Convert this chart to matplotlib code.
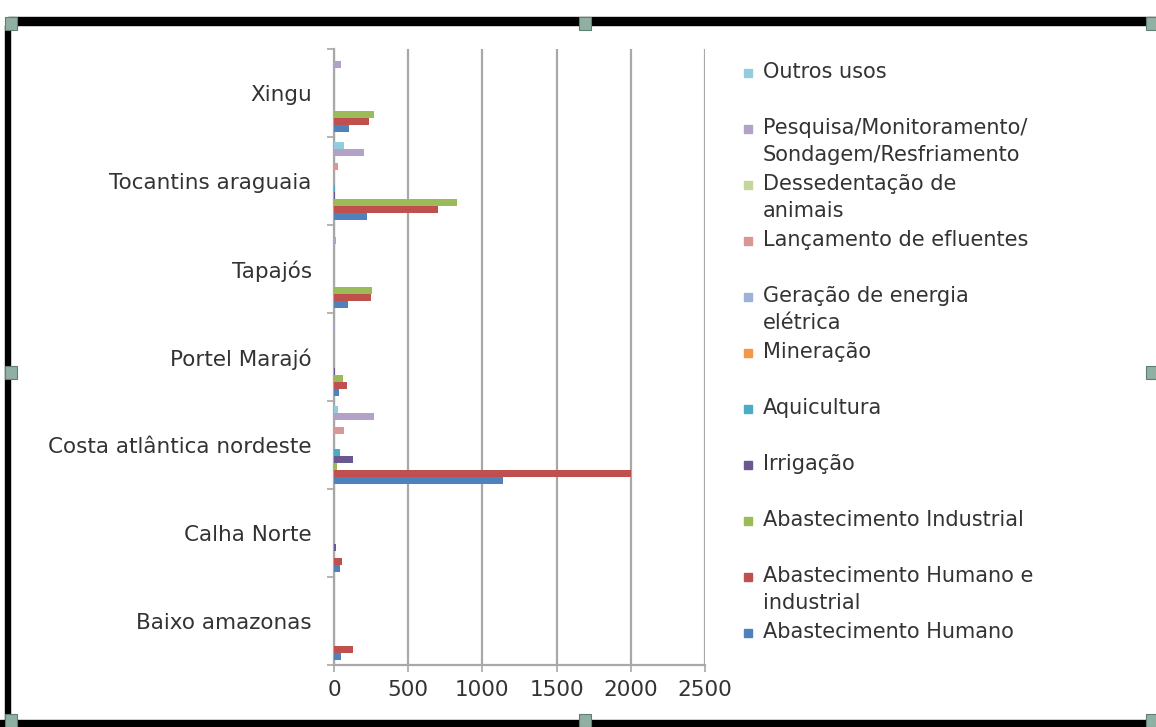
import matplotlib
matplotlib.use("Agg")
import matplotlib.pyplot as plt
from matplotlib.patches import Rectangle
import numpy as np

plt.rcParams['font.family'] = ['DejaVu Sans']

categories = ["Baixo amazonas", "Calha Norte", "Costa atlântica nordeste",
              "Portel Marajó", "Tapajós", "Tocantins araguaia", "Xingu"]

series_names = [
    "Abastecimento Humano",
    "Abastecimento Humano e\nindustrial",
    "Abastecimento Industrial",
    "Irrigação",
    "Aquicultura",
    "Mineração",
    "Geração de energia\nelétrica",
    "Lançamento de efluentes",
    "Dessedentação de\nanimais",
    "Pesquisa/Monitoramento/\nSondagem/Resfriamento",
    "Outros usos",
]

abast_humano       = [50, 40, 1140, 35, 97, 222, 100]
abast_humano_ind   = [130, 55, 2000, 90, 250, 700, 235]
abast_industrial   = [0, 0, 20, 60, 257, 826, 270]
irrigacao          = [0, 15, 130, 10, 0, 5, 0]
aquicultura        = [0, 0, 40, 0, 0, 10, 0]
mineracao          = [0, 0, 0, 0, 0, 0, 0]
geracao_energia    = [0, 0, 0, 0, 0, 0, 0]
lancamento         = [0, 0, 65, 0, 0, 30, 0]
dessedentacao      = [0, 0, 0, 0, 0, 0, 0]
pesquisa           = [0, 0, 270, 10, 15, 200, 45]
outros_usos        = [0, 0, 30, 0, 0, 70, 0]

series_values = [abast_humano, abast_humano_ind, abast_industrial, irrigacao,
                 aquicultura, mineracao, geracao_energia, lancamento,
                 dessedentacao, pesquisa, outros_usos]

colors = ["#4F81BD", "#C0504D", "#9BBB59", "#6A5890", "#4BACC6", "#F79646",
          "#9DB1D9", "#D99694", "#C3D69B", "#B3A2C7", "#93CDDD"]

x_ticks = [0, 500, 1000, 1500, 2000, 2500]

W, H = 1156, 727
fig = plt.figure(figsize=(W / 100, H / 100), dpi=100)
fig.patch.set_facecolor("white")

def fx(px):
    return px / W

def fy(py):
    return 1 - py / H

# axes: x 334..705, y 49..665 (pixels)
ax = fig.add_axes([fx(334), fy(665), fx(705) - fx(334), fy(49) - fy(665)])

n_series = len(series_values)
bar_h = 1.0 / 12.5
group = bar_h * n_series
y_base = np.arange(len(categories))
for k, (vals, col) in enumerate(zip(series_values, colors)):
    ypos = y_base - group / 2 + bar_h * (k + 0.5)
    ax.barh(ypos, vals, height=bar_h, color=col, edgecolor='none', zorder=3)

ax.set_xlim(0, 2500)
ax.set_ylim(-0.5, len(categories) - 0.5)
ax.set_xticks(x_ticks)
ax.set_xticklabels([str(t) for t in x_ticks])
ax.set_yticks(y_base)
ax.set_yticklabels(categories)
ax.set_yticks(np.arange(-0.5, len(categories), 1.0), minor=True)

ax.xaxis.grid(True, color="#A8A8A8", linewidth=1.6, zorder=0)
ax.yaxis.grid(False)
for s in ["top", "right"]:
    ax.spines[s].set_visible(False)
for s in ["left", "bottom"]:
    ax.spines[s].set_color("#A8A8A8")
    ax.spines[s].set_linewidth(1.6)

ax.tick_params(axis='x', which='major', length=5, color="#A8A8A8", width=1.2,
               labelsize=15.5, pad=6, labelcolor="#333333")
ax.tick_params(axis='y', which='major', length=0, labelsize=15.5, pad=16,
               labelcolor="#333333")
ax.tick_params(axis='y', which='minor', length=5, color="#A8A8A8", width=1.2)

# legend drawn manually (top entry = last series)
leg_y0 = 73
leg_step = 56
for i, k in enumerate(range(n_series - 1, -1, -1)):
    yc = leg_y0 + leg_step * i
    fig.patches.append(Rectangle((fx(744), fy(yc + 4)), fx(8), fy(yc - 4) - fy(yc + 4),
                                 transform=fig.transFigure, color=colors[k],
                                 figure=fig))
    fig.text(fx(763), fy(yc - 11), series_names[k], fontsize=15,
             va='top', ha='left', color="#333333", linespacing=1.45)

# screenshot frame decoration
frame = "#000000"
fig.patches.append(Rectangle((fx(8), fy(25)), fx(1148), fy(17) - fy(25),
                             transform=fig.transFigure, color=frame, figure=fig))
fig.patches.append(Rectangle((fx(5), fy(722)), fx(5), fy(25) - fy(722),
                             transform=fig.transFigure, color=frame, figure=fig))
fig.patches.append(Rectangle((fx(0), fy(727)), fx(1156), fy(720) - fy(727),
                             transform=fig.transFigure, color=frame, figure=fig))
handle_col = "#8FB0A2"
handles = [(5, 17), (579, 17), (1146, 17), (5, 366), (1146, 366),
           (5, 714), (579, 714), (1146, 714)]
for hx, hy in handles:
    fig.patches.append(Rectangle((fx(hx), fy(hy + 13)), fx(12), fy(hy) - fy(hy + 13),
                                 transform=fig.transFigure, facecolor=handle_col,
                                 edgecolor="#5E7F72", linewidth=0.8, figure=fig))

fig.savefig("out.png", dpi=100)
